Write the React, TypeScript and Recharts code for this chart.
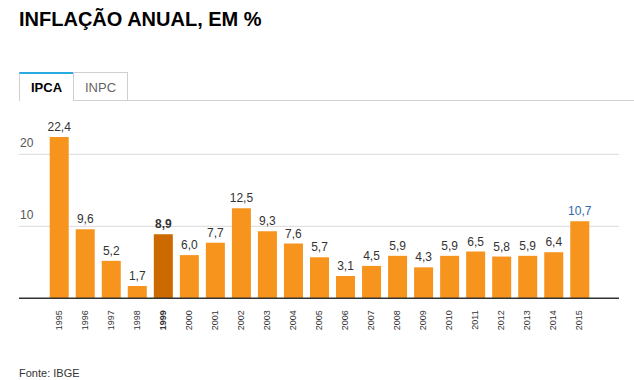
import { BarChart, Bar, XAxis, YAxis, CartesianGrid, Cell, LabelList } from "recharts";

const years = ["1995", "1996", "1997", "1998", "1999", "2000", "2001", "2002", "2003", "2004", "2005", "2006", "2007", "2008", "2009", "2010", "2011", "2012", "2013", "2014", "2015"];
const ipca = [22.4, 9.6, 5.2, 1.7, 8.9, 6.0, 7.7, 12.5, 9.3, 7.6, 5.7, 3.1, 4.5, 5.9, 4.3, 5.9, 6.5, 5.8, 5.9, 6.4, 10.7];
const yTicks = [10, 20];

const HIGHLIGHT = "1999";
const LATEST = "2015";

const ORANGE = "#f7941d";
const DARK_ORANGE = "#cc6a00";
const FONT = "'Liberation Sans', Arial, sans-serif";

const data = years.map((ano, i) => ({ ano, valor: ipca[i] }));

const fmt = (v: number) => v.toFixed(1).replace(".", ",");

const YearTick = ({ x, y, payload }: any) => {
  const bold = payload.value === HIGHLIGHT;
  return (
    <text
      transform={`translate(${x + 3},${y + 4}) rotate(-90)`}
      textAnchor="end"
      fontSize={9}
      fontFamily={FONT}
      fontWeight={bold ? 700 : 400}
      fill="#333"
    >
      {payload.value}
    </text>
  );
};

const ValueTick = ({ y, payload }: any) => (
  <text x={20} y={y - 7} fontSize={12} fontFamily={FONT} fill="#555">
    {payload.value}
  </text>
);

const ValueLabel = (props: any) => {
  const { x, y, width, value, index } = props;
  const ano = years[index];
  return (
    <text
      x={x + width / 2}
      y={y - 6}
      textAnchor="middle"
      fontSize={12}
      fontFamily={FONT}
      fontWeight={ano === HIGHLIGHT ? 700 : 400}
      fill={ano === LATEST ? "#2f6aa8" : "#333"}
    >
      {fmt(value)}
    </text>
  );
};

export default function App() {
  return (
    <div style={{ position: "absolute", left: 0, top: 0, width: 634, height: 380, background: "#fff", fontFamily: FONT }}>
      <div style={{ position: "absolute", left: 19, top: 9, fontSize: 20, lineHeight: "20px", fontWeight: 700, color: "#000" }}>
        INFLAÇÃO ANUAL, EM %
      </div>

      {/* abas */}
      <div style={{ position: "absolute", left: 73, top: 100, width: 561, height: 1, background: "#cfcfcf" }} />
      <div
        style={{
          position: "absolute", left: 19, top: 72, width: 53, height: 27,
          borderTop: "2px solid #29abe2", borderLeft: "1px solid #cfcfcf",
          textAlign: "center", fontSize: 13, lineHeight: "27px", fontWeight: 700, color: "#000",
        }}
      >
        IPCA
      </div>
      <div
        style={{
          position: "absolute", left: 73, top: 72, width: 53, height: 28,
          borderTop: "1px solid #cfcfcf", borderRight: "1px solid #cfcfcf", borderLeft: "1px solid #cfcfcf",
          textAlign: "center", fontSize: 13, lineHeight: "29px", color: "#666",
        }}
      >
        INPC
      </div>

      <div style={{ position: "absolute", left: 0, top: 100 }}>
        <BarChart width={634} height={240} data={data} margin={{ top: 18.3, right: 15, left: 18, bottom: 11.7 }}>
          <CartesianGrid vertical={false} stroke="#d9d9d9" horizontalValues={yTicks} />
          <XAxis
            dataKey="ano"
            height={30}
            interval={0}
            padding={{ left: 26.7, right: 26.7 }}
            tick={<YearTick />}
            tickLine={false}
            axisLine={{ stroke: "#333", strokeWidth: 1.5 }}
          />
          <YAxis
            width={1}
            domain={[0, 25]}
            ticks={yTicks}
            interval={0}
            tick={<ValueTick />}
            axisLine={false}
            tickLine={false}
          />
          <Bar dataKey="valor" barSize={19} isAnimationActive={false}>
            {data.map((d, i) => (
              <Cell key={`c-${i}`} fill={d.ano === HIGHLIGHT ? DARK_ORANGE : ORANGE} />
            ))}
            <LabelList dataKey="valor" content={<ValueLabel />} />
          </Bar>
        </BarChart>
      </div>

      <div style={{ position: "absolute", left: 19, top: 366, fontSize: 11, lineHeight: "14px", color: "#333" }}>
        Fonte: IBGE
      </div>
    </div>
  );
}
